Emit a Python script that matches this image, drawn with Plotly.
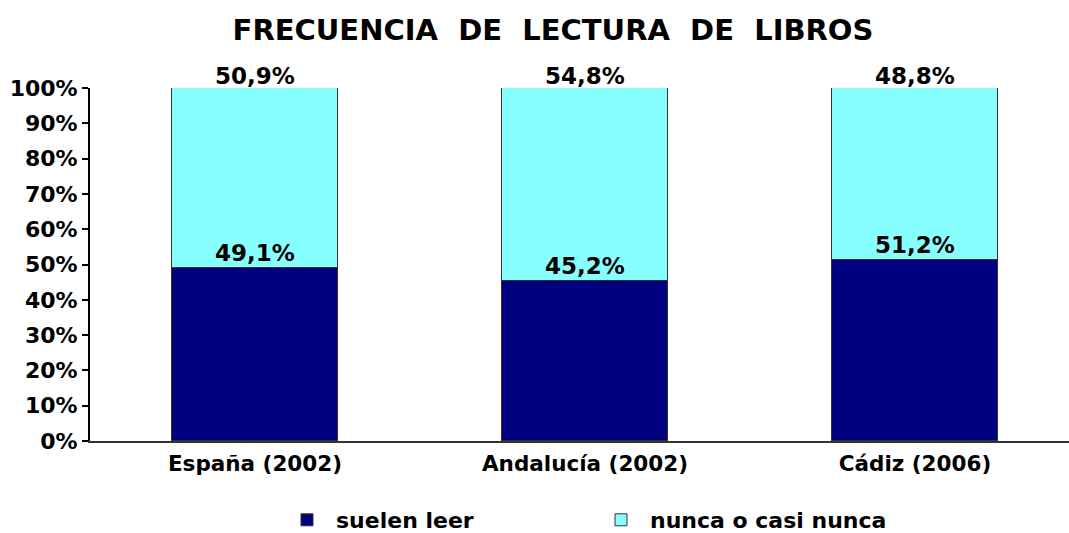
import plotly.graph_objects as go

categories = ["España (2002)", "Andalucía (2002)", "Cádiz (2006)"]
suelen_leer = [49.1, 45.2, 51.2]
nunca = [50.9, 54.8, 48.8]
tick_vals = [0, 10, 20, 30, 40, 50, 60, 70, 80, 90, 100]
tick_text = [f"{v}%" for v in tick_vals]

FONT = "DejaVu Sans"

def fmt(v):
    return f"{v:.1f}".replace(".", ",") + "%"

fig = go.Figure()
fig.add_trace(go.Bar(
    x=categories, y=suelen_leer, name="<b>suelen leer</b>",
    marker=dict(color="#000080", line=dict(color="#333333", width=1)),
    width=0.503,
))
fig.add_trace(go.Bar(
    x=categories, y=nunca, name="<b>nunca o casi nunca</b>",
    marker=dict(color="#88ffff", line=dict(color="#333333", width=1)),
    width=0.503,
))

for c, s, n in zip(categories, suelen_leer, nunca):
    fig.add_annotation(x=c, y=s, text=f"<b>{fmt(s)}</b>", showarrow=False, yanchor="bottom",
                       yshift=0, font=dict(family=FONT, size=23, color="#000000"))
    fig.add_annotation(x=c, y=s + n, text=f"<b>{fmt(n)}</b>", showarrow=False, yanchor="bottom",
                       yshift=-3, font=dict(family=FONT, size=23, color="#000000"))

fig.update_layout(
    barmode="stack",
    width=1069, height=533,
    margin=dict(l=90, r=0, t=88, b=92, autoexpand=False),
    plot_bgcolor="white", paper_bgcolor="white",
    title=dict(text="<b>FRECUENCIA\u00a0\u00a0DE\u00a0\u00a0LECTURA\u00a0\u00a0DE\u00a0\u00a0LIBROS</b>",
               x=553 / 1069, xanchor="center", y=1 - 30 / 533, yanchor="middle",
               font=dict(family=FONT, size=29, color="#000000")),
    font=dict(family=FONT, color="#000000"),
    showlegend=True,
    legend=dict(orientation="h", xref="container", x=278 / 1069, xanchor="left",
                yref="container", y=1 - 520 / 533, yanchor="middle",
                entrywidth=251, entrywidthmode="pixels", itemwidth=48,
                font=dict(family=FONT, size=22, color="#000000"),
                traceorder="normal"),
    bargap=0,
)
fig.update_xaxes(range=[-0.5, -0.5 + 979 / 330], showline=True, linecolor="#333333", linewidth=2,
                 ticks="", tickvals=categories, ticktext=[f"<b>{c}</b>" for c in categories],
                 tickfont=dict(family=FONT, size=21.5, color="#000000"),
                 showgrid=False, zeroline=False, ticklabelstandoff=2)
fig.update_yaxes(range=[0, 100], tickvals=tick_vals, ticktext=[f"<b>{t}</b>" for t in tick_text],
                 showline=True, linecolor="#000000", linewidth=2,
                 ticks="outside", ticklen=6, tickcolor="#000000", tickwidth=2,
                 tickfont=dict(family=FONT, size=22, color="#000000"),
                 showgrid=False, zeroline=False)

fig.write_html("out.html", config={"displayModeBar": False},
               post_script="document.body.style.margin='0';")
